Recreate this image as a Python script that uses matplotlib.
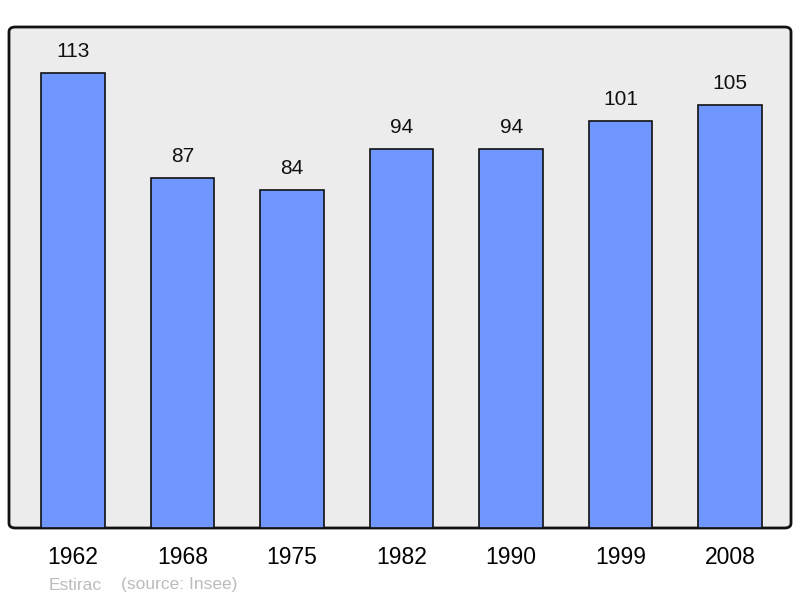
import matplotlib
matplotlib.use('Agg')
import matplotlib.pyplot as plt
from matplotlib.patches import FancyBboxPatch

years = ['1962', '1968', '1975', '1982', '1990', '1999', '2008']
population = [113, 87, 84, 94, 94, 101, 105]

plt.rcParams['font.family'] = ['Liberation Sans', 'DejaVu Sans']

fig = plt.figure(figsize=(8, 5.98), dpi=100)
ax = fig.add_axes([9 / 800, 70 / 598, 782 / 800, 501 / 598])
ax.set_facecolor('none')

# rounded frame behind the bars
frame = FancyBboxPatch((9 / 800, 70 / 598), 782 / 800, 501 / 598,
                       boxstyle='round,pad=0,rounding_size=0.008',
                       transform=fig.transFigure, facecolor='#ececec',
                       edgecolor='#111111', linewidth=2, zorder=-5)
fig.patches.append(frame)

x = range(len(years))
bars = ax.bar(x, population, width=0.58, color='#7096ff',
              edgecolor='#111111', linewidth=1.2, zorder=2)

for bar, v in zip(bars, population):
    ax.annotate(str(v), xy=(bar.get_x() + bar.get_width() / 2, bar.get_height()),
                xytext=(0, 15.5), textcoords='offset points',
                ha='center', va='center', fontsize=15, color='#111111')

ax.set_xlim(-0.585, 6.555)
ax.set_ylim(0, 124.4)
for s in ax.spines.values():
    s.set_visible(False)
ax.set_yticks([])
ax.set_xticks(list(x))
ax.set_xticklabels(years, fontsize=16.5)
ax.tick_params(axis='x', length=0, pad=13)

fig.text(49 / 800, 1 - 585 / 598, 'Estirac', fontsize=12.5, color='#bbbbbb',
         va='center', ha='left')
fig.text(121 / 800, 1 - 585 / 598, '(source: Insee)', fontsize=12.5,
         color='#bbbbbb', va='center', ha='left')

fig.savefig('out.png', dpi=100)
